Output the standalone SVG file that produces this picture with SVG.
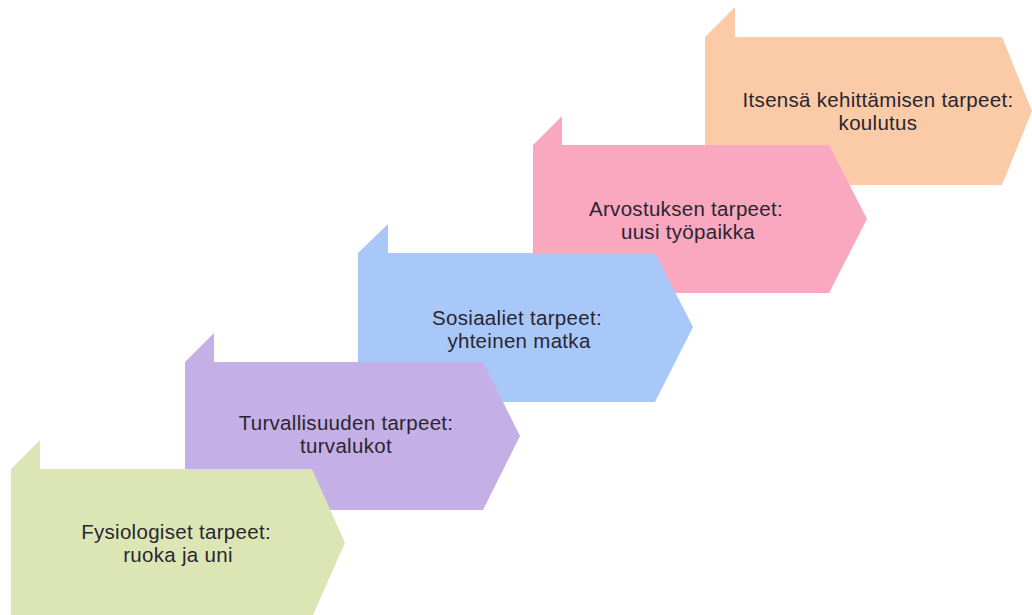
<svg xmlns="http://www.w3.org/2000/svg" width="1032" height="615" viewBox="0 0 1032 615">
  <style>
    .lbl { font-family: "Liberation Sans", Arial, sans-serif; font-size: 20.5px; letter-spacing: 0.3px; fill: #2a2630; text-anchor: middle; }
    .g { fill: #dce6b4; }
    .p { fill: #c4b0e6; }
    .b { fill: #a8c8fa; }
    .k { fill: #f9a8c0; }
    .o { fill: #fbcaa6; }
  </style>
  <rect width="1032" height="615" fill="#ffffff"/>
  <g id="step-orange">
    <polygon class="o" points="705,37 735,7 735,37"/>
    <polygon class="o" points="705,37 1002,37 1032,111 1002,185 705,185"/>
    <text class="lbl" x="878" y="107">Itsensä kehittämisen tarpeet:</text>
    <text class="lbl" x="878" y="130">koulutus</text>
  </g>
  <g id="step-pink">
    <polygon class="k" points="533,145 562,116 562,145"/>
    <polygon class="k" points="533,145 829,145 867,219 829,293 533,293"/>
    <text class="lbl" x="686" y="216">Arvostuksen tarpeet:</text>
    <text class="lbl" x="688" y="239">uusi työpaikka</text>
  </g>
  <g id="step-blue">
    <polygon class="b" points="358,253 388,224 388,253"/>
    <polygon class="b" points="358,253 655,253 693,327 655,402 358,402"/>
    <text class="lbl" x="517" y="325">Sosiaaliet tarpeet:</text>
    <text class="lbl" x="519" y="348">yhteinen matka</text>
  </g>
  <g id="step-purple">
    <polygon class="p" points="185,362 214,333 214,362"/>
    <polygon class="p" points="185,362 483,362 520,436 483,510 185,510"/>
    <text class="lbl" x="346" y="430">Turvallisuuden tarpeet:</text>
    <text class="lbl" x="346" y="453">turvalukot</text>
  </g>
  <g id="step-green">
    <polygon class="g" points="11,469 40,440 40,469"/>
    <polygon class="g" points="11,469 312,469 345,543 312,617 11,617"/>
    <text class="lbl" x="176" y="539">Fysiologiset tarpeet:</text>
    <text class="lbl" x="178" y="562">ruoka ja uni</text>
  </g>
  <g id="connectors"></g>
</svg>
